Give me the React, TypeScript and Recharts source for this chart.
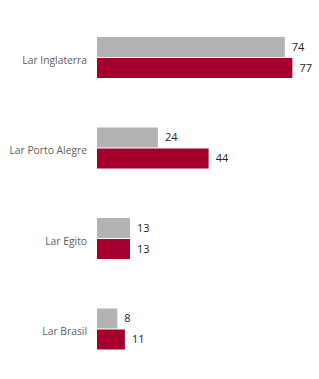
import { BarChart, Bar, XAxis, YAxis, LabelList } from 'recharts';

const categories = ['Lar Inglaterra', 'Lar Porto Alegre', 'Lar Egito', 'Lar Brasil'];
const previousValues = [74, 24, 13, 8];
const currentValues = [77, 44, 13, 11];

const GRAY = '#b3b3b3';
const CRIMSON = '#a5002d';
const FONT = '"Open Sans", "DejaVu Sans", sans-serif';

const data = categories.map((name, i) => ({
  name,
  previous: previousValues[i],
  current: currentValues[i],
}));

// single-line category label (the default tick wraps long names)
function CategoryTick({ x, y, payload }: any) {
  return (
    <text x={x} y={y} dy={6.5} textAnchor="end" fill="#605e5c" fontSize={10.3} fontFamily={FONT}>
      {payload.value}
    </text>
  );
}

export default function App() {
  return (
    <div style={{ position: 'fixed', left: 0, top: 0, width: 319, height: 379, background: '#fff', fontFamily: FONT }}>
      <BarChart
        width={319}
        height={379}
        data={data}
        layout="vertical"
        margin={{ top: 12, right: 19, bottom: 5, left: 0 }}
        barGap={1}
        barSize={20}
      >
        <XAxis type="number" domain={[0, 80]} hide />
        <YAxis
          type="category"
          dataKey="name"
          width={97}
          axisLine={false}
          tickLine={false}
          tickSize={0}
          tickMargin={10}
          tick={<CategoryTick />}
        />
        <Bar dataKey="previous" fill={GRAY} isAnimationActive={false}>
          <LabelList dataKey="previous" position="right" offset={7} fill="#252423" fontSize={11} fontFamily={FONT} />
        </Bar>
        <Bar dataKey="current" fill={CRIMSON} isAnimationActive={false}>
          <LabelList dataKey="current" position="right" offset={7} fill="#252423" fontSize={11} fontFamily={FONT} />
        </Bar>
      </BarChart>
    </div>
  );
}
